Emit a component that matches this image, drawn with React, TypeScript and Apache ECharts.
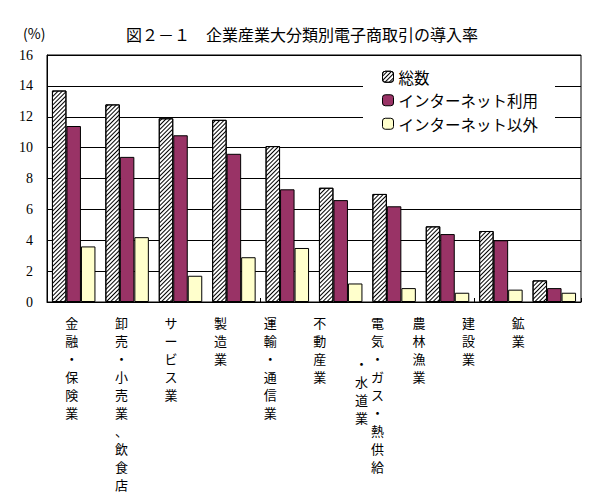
import React, { useEffect, useRef } from "react";
import * as echarts from "echarts";

const categories = [
  "金融・保険業",
  "卸売・小売業、飲食店",
  "サービス業",
  "製造業",
  "運輸・通信業",
  "不動産業",
  "電気・ガス・熱供給・水道業",
  "農林漁業",
  "建設業",
  "鉱業",
];
// the one category label that wraps into a second column in the reference
const wrappedCategory = "電気・ガス・熱供給・水道業";
const wrappedTail = "・水道業";
const seriesNames = ["総数", "インターネット利用", "インターネット以外"];
const totalValues = [13.7, 12.8, 11.9, 11.8, 10.1, 7.4, 7.0, 4.9, 4.6, 1.4];
const internetValues = [11.4, 9.4, 10.8, 9.6, 7.3, 6.6, 6.2, 4.4, 4.0, 0.9];
const otherValues = [3.6, 4.2, 1.7, 2.9, 3.5, 1.2, 0.9, 0.6, 0.8, 0.6];
const titleText = "図２－１　企業産業大分類別電子商取引の導入率";
const unitText = "(%)";

const JP = "'Noto Sans CJK JP', 'Noto Sans', sans-serif";

function headPart(v: string): string {
  return v === wrappedCategory ? v.slice(0, v.length - wrappedTail.length) : v;
}

function mainLabel(v: string): string {
  const chars = Array.from(headPart(v));
  if (v === wrappedCategory) return chars.map((c) => `{rt|${c}}`).join("\n");
  return chars.join("\n");
}

function tailLabel(v: string): string {
  if (!v) return "";
  return Array.from(v)
    .map((c) => `{lt|${c}}`)
    .join("\n");
}

export default function App() {
  const ref = useRef<HTMLDivElement>(null);
  useEffect(() => {
    if (!ref.current) return;
    const chart = echarts.init(ref.current, undefined, { renderer: "svg" });
    const border = { borderColor: "#000", borderWidth: 1 };
    const tailData = categories.map((c) => (c === wrappedCategory ? wrappedTail : ""));
    const labelBase = {
      interval: 0,
      fontFamily: JP,
      fontSize: 13,
      lineHeight: 18,
      color: "#000",
    };
    chart.setOption({
      animation: false,
      title: {
        text: titleText,
        left: "center",
        top: 21,
        textStyle: { fontFamily: JP, fontSize: 16, fontWeight: "normal", color: "#000" },
      },
      graphic: [
        {
          type: "text",
          left: 23,
          top: 26,
          style: { text: unitText, fontFamily: JP, fontSize: 14, fill: "#000" },
        },
      ],
      legend: {
        orient: "vertical",
        left: 363,
        top: 60,
        padding: [9, 17, 8, 19],
        backgroundColor: "#fff",
        itemWidth: 11,
        itemHeight: 11,
        itemGap: 8,
        itemStyle: { borderColor: "#000", borderWidth: 1 },
        textStyle: { fontFamily: JP, fontSize: 15.5, lineHeight: 15, color: "#000" },
        data: seriesNames,
      },
      grid: [
        {
          left: 47,
          right: 23,
          top: 55,
          bottom: 199,
          show: true,
          borderColor: "#000",
          borderWidth: 1,
        },
        { left: 47, width: 496, top: 55, bottom: 199 },
      ],
      xAxis: [
        {
          type: "category",
          gridIndex: 0,
          position: "bottom",
          data: categories,
          axisLine: { lineStyle: { color: "#000", width: 1 } },
          axisTick: { show: true, inside: true, length: 4, lineStyle: { color: "#000" } },
          axisLabel: { show: false },
        },
        {
          type: "category",
          gridIndex: 1,
          position: "bottom",
          data: categories,
          axisLine: { show: false },
          axisTick: { show: false },
          axisLabel: {
            ...labelBase,
            margin: 11,
            formatter: (v: string) => mainLabel(v),
            rich: {
              rt: { padding: [0, 0, 0, 16], lineHeight: 18, fontSize: 13, fontFamily: JP, color: "#000" },
            },
          },
        },
        {
          type: "category",
          gridIndex: 1,
          position: "bottom",
          offset: 0,
          data: tailData,
          axisLine: { show: false },
          axisTick: { show: false },
          axisLabel: {
            ...labelBase,
            margin: 52,
            formatter: (v: string) => tailLabel(v),
            rich: {
              lt: { padding: [0, 16, 0, 0], lineHeight: 18, fontSize: 13, fontFamily: JP, color: "#000" },
            },
          },
        },
      ],
      yAxis: [
        {
          type: "value",
          gridIndex: 0,
          min: 0,
          max: 16,
          interval: 2,
          axisLine: { show: true, lineStyle: { color: "#000", width: 1 } },
          axisTick: { show: false },
          splitLine: { lineStyle: { color: "#000", width: 1 } },
          axisLabel: {
            margin: 14,
            fontFamily: "'Liberation Serif', serif",
            fontSize: 14,
            color: "#000",
          },
        },
        {
          type: "value",
          gridIndex: 1,
          min: 0,
          max: 16,
          show: false,
          splitLine: { show: false },
        },
      ],
      series: [
        {
          name: seriesNames[0],
          type: "bar",
          xAxisIndex: 0,
          yAxisIndex: 0,
          data: totalValues,
          barWidth: 14.5,
          barGap: "0%",
          itemStyle: {
            color: "#fff",
            ...border,
            decal: {
              symbol: "rect",
              symbolSize: 1,
              color: "#000",
              dashArrayX: [1, 0],
              dashArrayY: [1, 2],
              rotation: -Math.PI / 4,
            },
          },
        },
        {
          name: seriesNames[1],
          type: "bar",
          xAxisIndex: 0,
          yAxisIndex: 0,
          data: internetValues,
          barWidth: 14.5,
          barGap: "0%",
          itemStyle: { color: "#993366", ...border },
        },
        {
          name: seriesNames[2],
          type: "bar",
          xAxisIndex: 0,
          yAxisIndex: 0,
          data: otherValues,
          barWidth: 14.5,
          barGap: "0%",
          itemStyle: { color: "#FFFFCC", ...border },
        },
      ],
    });
    return () => chart.dispose();
  }, []);
  return (
    <div
      ref={ref}
      style={{ position: "absolute", left: 0, top: 0, width: 604, height: 501, background: "#fff" }}
    />
  );
}
